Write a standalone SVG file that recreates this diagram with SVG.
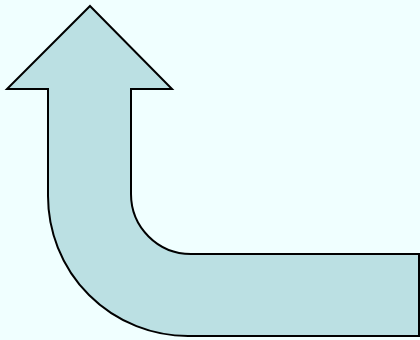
<svg xmlns="http://www.w3.org/2000/svg" width="420" height="340" viewBox="0 0 420 340">
<style>
.bg{fill:#F0FFFF}
.arrow{fill:#BBE0E3;stroke:#000;stroke-width:2;stroke-linejoin:miter}
</style>
<rect class="bg" x="0" y="0" width="420" height="340"/>
<g id="bent-arrow">
<path class="arrow" d="M90,6 L172,89 L131,89 L131,194 A60,60 0 0 0 191,254 L419,254 L419,336 L188,336 A140,140 0 0 1 48,196 L48,89 L7,89 Z"/>
</g>
</svg>
